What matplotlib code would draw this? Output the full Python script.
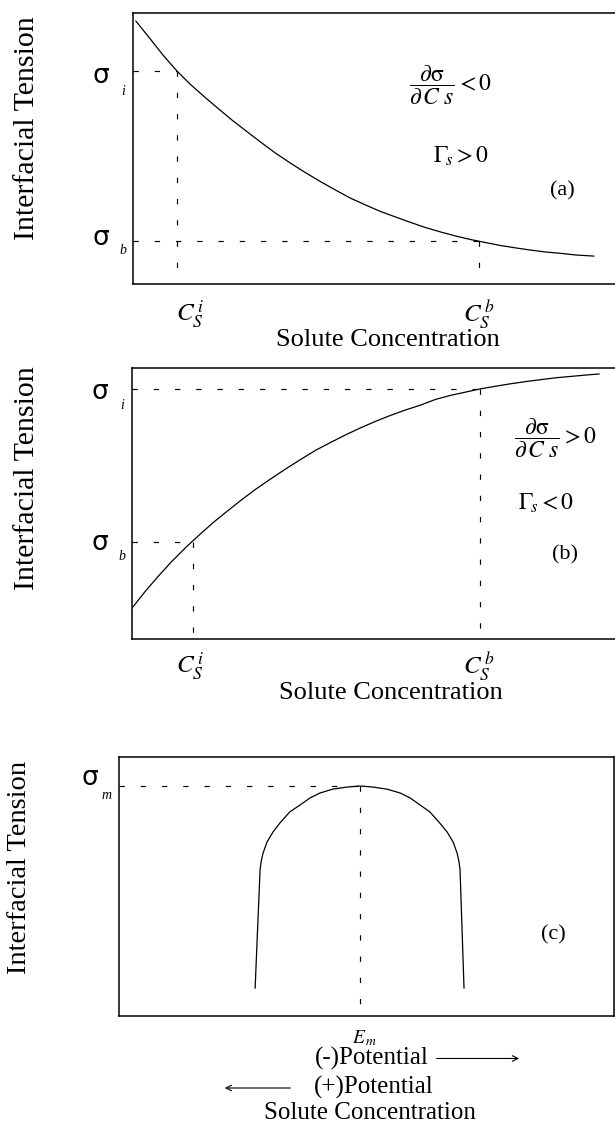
import matplotlib.pyplot as plt

plt.rcParams["font.family"] = ["Liberation Serif", "DejaVu Sans"]
plt.rcParams["mathtext.fontset"] = "stix"

# panel (a): interfacial tension falls with solute concentration
conc_a = [0.6, 3.5, 6.2, 9.1, 11.8, 14.7, 17.6, 20.5, 23.4, 26.4, 29.5, 32.6, 35.7, 38.8,
          41.9, 45.0, 48.1, 51.2, 54.4, 57.5, 60.6, 63.7, 66.8, 69.9, 73.0, 76.1, 79.3,
          82.4, 85.5, 88.6, 91.7, 95.4]
tension_a = [97.0, 90.6, 84.5, 78.6, 73.8, 69.2, 64.8, 60.5, 56.5, 52.4, 48.3, 44.6, 41.1, 37.8,
             34.7, 31.7, 29.2, 26.8, 24.7, 22.7, 20.8, 19.2, 17.7, 16.4, 15.3, 14.2, 13.3,
             12.5, 11.8, 11.3, 10.7, 10.3]
sigma_i_a, sigma_b_a = 78.6, 15.9
cs_i_a, cs_b_a = 9.1, 71.7

# panel (b): interfacial tension rises with solute concentration
conc_b = [0.0, 2.7, 5.4, 8.1, 11.0, 13.9, 16.8, 19.7, 22.6, 25.5, 28.6, 31.7, 34.8, 37.9,
          41.0, 44.1, 47.2, 50.3, 53.4, 56.5, 59.6, 62.7, 65.8, 68.9, 72.0, 75.2, 78.3,
          81.4, 84.5, 87.6, 90.7, 93.8, 96.5]
tension_b = [11.4, 17.5, 23.1, 28.4, 33.6, 38.4, 43.0, 47.2, 51.3, 55.2, 59.0, 62.7, 66.2, 69.6,
             72.5, 75.3, 77.9, 80.3, 82.5, 84.5, 86.3, 88.4, 89.9, 91.1, 92.3, 93.3, 94.2,
             95.0, 95.7, 96.4, 96.9, 97.4, 97.8]
sigma_i_b, sigma_b_b = 92.3, 35.8
cs_i_b, cs_b_b = 12.6, 71.8

# panel (c): electrocapillary curve
potential_c = [27.5, 28.5, 28.7, 29.1, 29.9, 31.1, 32.5, 34.5, 36.6, 38.6, 40.6, 43.2, 46.1,
               48.7, 51.3, 54.1, 56.8, 58.8, 60.8, 62.8, 64.8, 66.3, 67.5, 68.3, 68.7, 68.9, 69.7]
tension_c = [10.8, 56.4, 59.5, 62.9, 67.2, 71.0, 74.5, 78.8, 81.5, 84.2, 86.1, 87.6, 88.4,
             88.8, 88.4, 87.6, 86.1, 84.2, 81.5, 78.8, 74.5, 71.0, 67.2, 62.9, 59.5, 56.4, 10.8]
sigma_m, e_m = 88.8, 48.7

DASH = (0, (4.5, 13.5))
W, H = 615, 1127


def make_axes(fig, left, top, right, bottom, show_right):
    ax = fig.add_axes([left / W, 1 - bottom / H, (right - left) / W, (bottom - top) / H])
    ax.set_xlim(0, 100)
    ax.set_ylim(0, 100)
    ax.set_xticks([])
    ax.set_yticks([])
    for s in ax.spines.values():
        s.set_linewidth(1.1)
    ax.spines["right"].set_visible(show_right)
    return ax


def guides(ax, x, y):
    ax.plot([0, x], [y, y], color="black", lw=0.85, ls=DASH)
    ax.plot([x, x], [y, 0], color="black", lw=0.85, ls=DASH)


def sigma_label(ax, y, sub, x=-6.7, xs=-2.1, dy=5.0):
    ax.text(x, y, "σ", fontsize=19, ha="center", va="center", family="DejaVu Sans", clip_on=False)
    ax.text(xs, y - dy, sub, fontsize=10, style="italic", ha="center", va="center", clip_on=False)


fig = plt.figure(figsize=(W / 100, H / 100), dpi=100)

# ---- (a)
ax = make_axes(fig, 133, 13, 616, 284, False)
ax.plot(conc_a, tension_a, color="black", lw=0.9)
guides(ax, cs_i_a, sigma_i_a)
guides(ax, cs_b_a, sigma_b_a)
sigma_label(ax, 76.6, "i", dy=5.4)
sigma_label(ax, 17.0, "b", dy=4.8)
ax.text(11.8, -11.5, r"$C_S^{\,i}$", fontsize=18, ha="center", va="center", clip_on=False)
ax.text(71.6, -11.5, r"$C_S^{\,b}$", fontsize=18, ha="center", va="center", clip_on=False)
ax.text(52.7, -20.8, "Solute Concentration", fontsize=19, ha="center", va="center", clip_on=False)
ax.text(65.8, 73.4, r"$\dfrac{\partial\mathrm{\sigma}}{\partial\,C\;s}<0$", fontsize=17,
        ha="center", va="center")
ax.text(68.0, 47.0, r"$\Gamma_{\!s} > 0$", fontsize=17, ha="center", va="center")
ax.text(88.8, 34.3, "(a)", fontsize=16, ha="center", va="center")
fig.text(27 / W, 1 - 128 / H, "Interfacial Tension", fontsize=21.5, rotation=90,
         ha="center", va="center")

# ---- (b)
ax = make_axes(fig, 132, 368, 616, 639, False)
ax.plot(conc_b, tension_b, color="black", lw=0.9)
guides(ax, cs_b_b, sigma_i_b)
guides(ax, cs_i_b, sigma_b_b)
sigma_label(ax, 91.1, "i", x=-6.6, dy=4.8)
sigma_label(ax, 35.4, "b", x=-6.6, dy=5.1)
ax.text(12.0, -10.2, r"$C_S^{\,i}$", fontsize=18, ha="center", va="center", clip_on=False)
ax.text(71.6, -10.2, r"$C_S^{\,b}$", fontsize=18, ha="center", va="center", clip_on=False)
ax.text(53.4, -19.8, "Solute Concentration", fontsize=19, ha="center", va="center", clip_on=False)
ax.text(87.4, 74.2, r"$\dfrac{\partial\mathrm{\sigma}}{\partial\,C\;s}>0$", fontsize=17,
        ha="center", va="center")
ax.text(85.5, 50.2, r"$\Gamma_{\!s} < 0$", fontsize=17, ha="center", va="center")
ax.text(89.4, 31.0, "(b)", fontsize=16, ha="center", va="center")
fig.text(27 / W, 1 - 478 / H, "Interfacial Tension", fontsize=21.5, rotation=90,
         ha="center", va="center")

# ---- (c)
ax = make_axes(fig, 119, 757, 614, 1016, True)
ax.plot(potential_c, tension_c, color="black", lw=0.9)
guides(ax, e_m, sigma_m)
sigma_label(ax, 91.9, "m", x=-5.9, xs=-2.6, dy=6.6)
ax.text(49.7, -8.6, r"$E_{\,m}$", fontsize=14, ha="center", va="center", clip_on=False)
ax.text(51.1, -16.3, "(-)Potential", fontsize=18, ha="center", va="center", clip_on=False)
ax.text(51.5, -27.6, "(+)Potential", fontsize=18, ha="center", va="center", clip_on=False)
ax.text(50.7, -37.3, "Solute Concentration", fontsize=18, ha="center", va="center", clip_on=False)
ax.annotate("", xy=(81.4, -16.4), xytext=(63.6, -16.4), annotation_clip=False,
            arrowprops=dict(arrowstyle="->", lw=0.8, color="black"))
ax.annotate("", xy=(20.8, -27.8), xytext=(35.2, -27.8), annotation_clip=False,
            arrowprops=dict(arrowstyle="->", lw=0.8, color="black"))
ax.text(87.7, 31.3, "(c)", fontsize=16, ha="center", va="center")
fig.text(20 / W, 1 - 867 / H, "Interfacial Tension", fontsize=20.5, rotation=90,
         ha="center", va="center")

fig.savefig("out.png", dpi=100)
